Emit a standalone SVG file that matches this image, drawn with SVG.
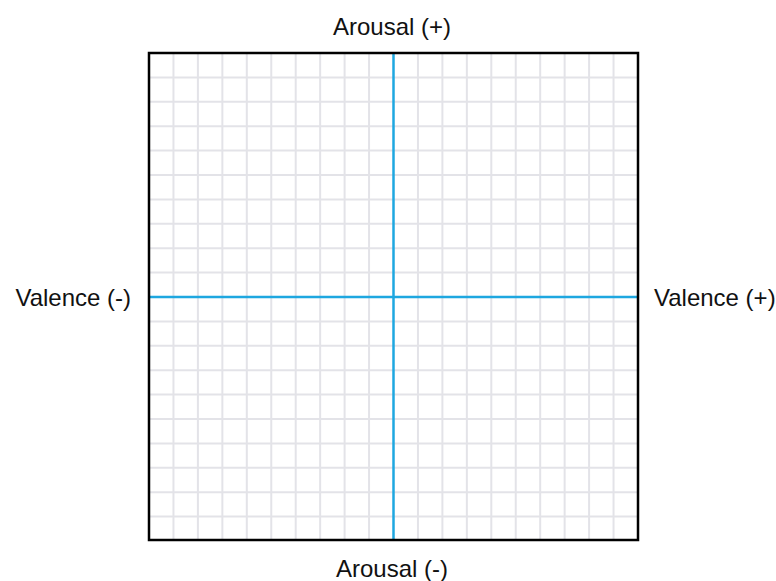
<svg xmlns="http://www.w3.org/2000/svg" width="776" height="581" viewBox="0 0 776 581">
<style>
.grid line{stroke:#e3e3e8;stroke-width:2}
.axis{stroke:#1ea7e0;stroke-width:2.5}
.lbl{font-family:"Liberation Sans",Arial,sans-serif;font-size:24px;fill:#111}
</style>
<rect width="776" height="581" fill="#fff"/>
<g id="grid" class="grid">
<line x1="173.45" y1="53" x2="173.45" y2="540"/>
<line x1="197.9" y1="53" x2="197.9" y2="540"/>
<line x1="222.35" y1="53" x2="222.35" y2="540"/>
<line x1="246.8" y1="53" x2="246.8" y2="540"/>
<line x1="271.25" y1="53" x2="271.25" y2="540"/>
<line x1="295.7" y1="53" x2="295.7" y2="540"/>
<line x1="320.15" y1="53" x2="320.15" y2="540"/>
<line x1="344.6" y1="53" x2="344.6" y2="540"/>
<line x1="369.05" y1="53" x2="369.05" y2="540"/>
<line x1="417.95" y1="53" x2="417.95" y2="540"/>
<line x1="442.4" y1="53" x2="442.4" y2="540"/>
<line x1="466.85" y1="53" x2="466.85" y2="540"/>
<line x1="491.3" y1="53" x2="491.3" y2="540"/>
<line x1="515.75" y1="53" x2="515.75" y2="540"/>
<line x1="540.2" y1="53" x2="540.2" y2="540"/>
<line x1="564.65" y1="53" x2="564.65" y2="540"/>
<line x1="589.1" y1="53" x2="589.1" y2="540"/>
<line x1="613.55" y1="53" x2="613.55" y2="540"/>
<line x1="149" y1="77.4" x2="638" y2="77.4"/>
<line x1="149" y1="101.8" x2="638" y2="101.8"/>
<line x1="149" y1="126.2" x2="638" y2="126.2"/>
<line x1="149" y1="150.6" x2="638" y2="150.6"/>
<line x1="149" y1="175" x2="638" y2="175"/>
<line x1="149" y1="199.4" x2="638" y2="199.4"/>
<line x1="149" y1="223.8" x2="638" y2="223.8"/>
<line x1="149" y1="248.2" x2="638" y2="248.2"/>
<line x1="149" y1="272.6" x2="638" y2="272.6"/>
<line x1="149" y1="321.4" x2="638" y2="321.4"/>
<line x1="149" y1="345.8" x2="638" y2="345.8"/>
<line x1="149" y1="370.2" x2="638" y2="370.2"/>
<line x1="149" y1="394.6" x2="638" y2="394.6"/>
<line x1="149" y1="419" x2="638" y2="419"/>
<line x1="149" y1="443.4" x2="638" y2="443.4"/>
<line x1="149" y1="467.8" x2="638" y2="467.8"/>
<line x1="149" y1="492.2" x2="638" y2="492.2"/>
<line x1="149" y1="516.6" x2="638" y2="516.6"/>
</g>
<g id="axes">
<line class="axis" x1="393.5" y1="53" x2="393.5" y2="540"/>
<line class="axis" x1="149" y1="297" x2="638" y2="297"/>
</g>
<rect id="frame" x="149" y="53" width="489" height="487" fill="none" stroke="#000" stroke-width="2.5"/>
<g id="labels">
<text class="lbl" x="392" y="35" text-anchor="middle">Arousal (+)</text>
<text class="lbl" x="392" y="577" text-anchor="middle">Arousal (-)</text>
<text class="lbl" x="131" y="306" text-anchor="end">Valence (-)</text>
<text class="lbl" x="654" y="306">Valence (+)</text>
</g>
</svg>
